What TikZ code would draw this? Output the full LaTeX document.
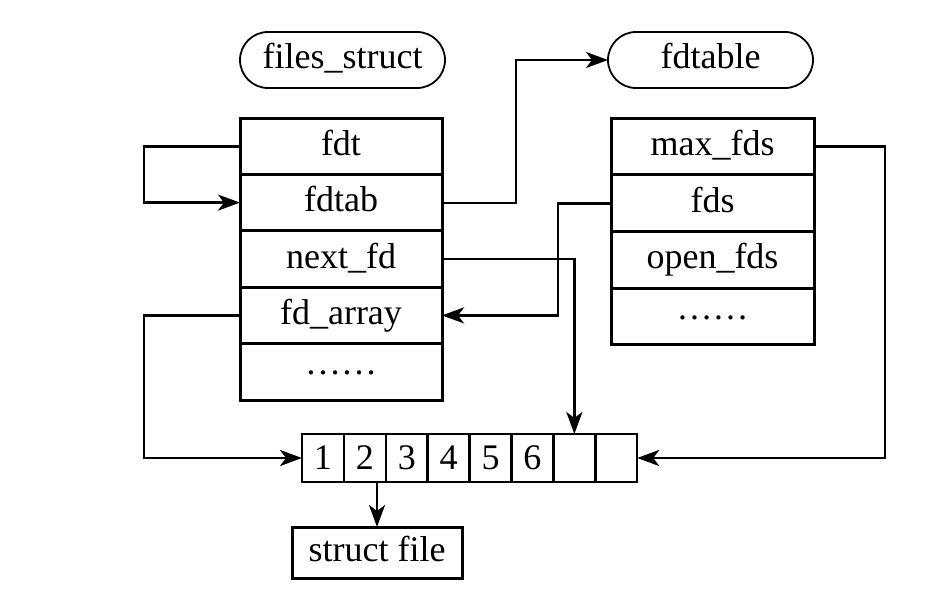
\documentclass[tikz,border=0pt]{standalone}
\usepackage{fontspec}
\setmainfont{Liberation Serif}
\usetikzlibrary{arrows.meta,shapes.misc,calc}
\begin{document}
\begin{tikzpicture}[x=1pt,y=-1pt,
  every node/.style={font=\fontsize{36}{42}\selectfont, inner sep=0pt, outer sep=0pt},
  row/.style={draw, line width=3pt, minimum width=202pt, minimum height=56.4pt, text height=25pt, text depth=7pt},
  rrow/.style={draw, line width=3pt, minimum width=203pt, minimum height=56.75pt, text height=25pt, text depth=7pt},
  pill/.style={draw, line width=1.8pt, rounded rectangle, minimum width=205pt, minimum height=56pt, text height=25pt, text depth=7pt},
  cell/.style={draw, line width=2.5pt, minimum width=41.9pt, minimum height=48pt, text height=25pt, text depth=2pt},
  conn/.style={line width=2.8pt, -{Stealth[length=22pt,width=16pt,inset=6pt]}},
  thinconn/.style={line width=2pt, -{Stealth[length=22pt,width=16pt,inset=6pt]}}
]
\useasboundingbox (0,0) rectangle (949,591);

% pills
\node[pill] (fs) at (342.5,60) {files\_struct};
\node[pill] (ft) at (710.5,60) {fdtable};

% left struct
\node[row] (fdt)     at (341,146.2) {fdt};
\node[row] (fdtab)   at (341,202.6) {fdtab};
\node[row] (nextfd)  at (341,259.0) {next\_fd};
\node[row] (fdarray) at (341,315.4) {fd\_array};
\node[row] (dotsl)   at (341,371.8) {\raisebox{6pt}{……}};

% right struct
\node[rrow] (maxfds)  at (712.5,146.4) {max\_fds};
\node[rrow] (fds)     at (712.5,203.1) {fds};
\node[rrow] (openfds) at (712.5,259.9) {open\_fds};
\node[rrow] (dotsr)   at (712.5,316.6) {\raisebox{6pt}{……}};

% array cells
\foreach \i/\t in {1/1,2/2,3/3,4/4,5/5,6/6,7/{},8/{}} {
  \node[cell] (c\i) at ({302+41.9*(\i-0.5)},458) {\t};
}

% struct file
\node[draw, line width=3pt, minimum width=170pt, minimum height=51pt, text height=25pt, text depth=7pt] (sf) at (377,552.5) {struct file};

% connectors
\draw[conn] (fdt.west) -- ++(-96,0) |- (fdtab.west);
\draw[thinconn] (fdtab.east) -- ++(74,0) |- (ft.west);
\draw[conn] (nextfd.east) -| (c7.north);
\draw[conn] (fds.west) -- ++(-53,0) |- (fdarray.east);
\draw[conn] (fdarray.west) -- ++(-96,0) |- (c1.west);
\draw[conn] (maxfds.east) -- ++(71,0) |- (c8.east);
\draw[conn] (sf.north |- c2.south) -- (sf.north);
\end{tikzpicture}
\end{document}
